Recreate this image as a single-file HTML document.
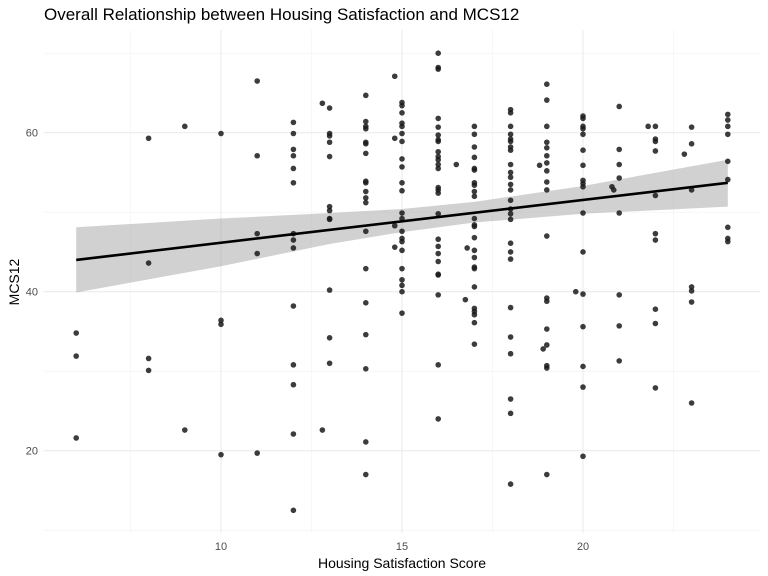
<!DOCTYPE html>
<html><head><meta charset="utf-8">
<style>
html,body{margin:0;padding:0;background:#fff;}
svg{display:block;font-family:"Liberation Sans",sans-serif;}
</style></head>
<body>
<svg id="chart" width="768" height="576" viewBox="0 0 768 576">
<text x="44" y="20" font-size="17" fill="#000">Overall Relationship between Housing Satisfaction and MCS12</text>
<text transform="translate(19,282) rotate(-90)" text-anchor="middle" font-size="14" fill="#000">MCS12</text>
<text x="402" y="568" text-anchor="middle" font-size="14" fill="#000">Housing Satisfaction Score</text>
<g id="grid"></g>
<g id="band"></g>
<g id="pts"></g>
<g id="fit"></g>
<g id="ticks"></g>
</svg>
<script>
const xTicks = [10, 15, 20];
const xMinor = [7.5, 12.5, 17.5, 22.5];
const yTicks = [20, 40, 60];
const yMinor = [10, 30, 50, 70];
const fitX = [6, 24];
const fitY = [44.0, 53.7];
const bandX = [6, 10, 13, 15, 17, 20, 24];
const bandHi = [48.1, 49.2, 49.9, 50.4, 51.3, 53.3, 56.6];
const bandLo = [39.9, 43.2, 46.0, 47.5, 48.7, 49.8, 50.7];
const housingX = [
6,6,6,
8,8,8,8,
9,9,
10,10,10,10,
11,11,11,11,11,
12,12,12,12,12,12,12,12,12,12,12,12,12,12,
12.8,12.8,
13,13,13,13,13,13,13,13,13,13,13,13,
14,14,14,14,14,14,14,14,14,14,14,14,14,14,14,14,14,14,14,
14.8,14.8,14.8,14.8,
15,15,15,15,15,15,15,15,15,15,15,15,15,15,15,15,15,15,15,15,15,15,
16,16,16,16,16,16,16,16,16,16,16,16,16,16,16,16,16,16,16,16,16,16,16,16,16,16,
16.5,16.75,16.8,
17,17,17,17,17,17,17,17,17,17,17,17,17,17,17,17,17,17,17,17,17,17,17,17,
18,18,18,18,18,18,18,18,18,18,18,18,18,18,18,18,18,18,18,18,18,18,18,18,18,18,
18.8,18.9,
19,19,19,19,19,19,19,19,19,19,19,19,19,19,19,19,19,19,
19.8,
20,20,20,20,20,20,20,20,20,20,20,20,20,20,20,20,20,
20.8,20.85,
21,21,21,21,21,21,21,21,
21.8,
22,22,22,22,22,22,22,22,22,22,
22.8,
23,23,23,23,23,23,23,
24,24,24,24,24,24,24,24,24
];
const mcs12 = [
34.8,31.9,21.6,
59.3,43.6,31.6,30.1,
60.8,22.6,
59.9,36.4,35.9,19.5,
66.5,57.1,47.3,44.8,19.7,
61.3,59.9,57.9,57.1,55.5,53.7,47.3,46.5,45.5,38.2,30.8,28.3,22.1,12.5,
63.7,22.6,
63.1,59.9,59.6,58.8,57.0,50.7,50.2,49.2,49.1,40.2,34.2,31.0,
64.7,61.4,60.8,60.5,58.8,58.6,57.4,53.9,53.7,52.6,51.8,51.2,47.6,42.9,38.6,34.6,30.3,21.1,17.0,
67.1,59.3,48.3,45.6,
63.8,63.4,62.5,61.2,60.8,59.9,58.9,56.7,55.7,53.7,52.7,49.9,49.2,47.6,46.7,46.3,45.2,42.9,41.5,40.8,40.0,37.3,
70.0,68.2,68.0,61.8,60.7,59.7,59.1,58.9,57.6,57.0,56.6,56.0,55.5,53.1,52.8,52.4,49.8,46.6,45.7,44.8,43.8,42.2,42.1,39.6,30.8,24.0,
56.0,39.0,45.5,
60.8,59.8,58.2,56.9,55.5,55.3,53.7,53.4,52.6,52.0,49.2,48.4,48.2,46.8,45.2,44.3,43.1,42.9,40.6,37.9,37.5,37.1,36.1,33.4,
62.9,62.5,60.8,59.8,59.2,58.9,58.2,57.8,56.0,55.0,54.4,53.5,52.8,51.5,50.4,49.8,49.1,46.1,45.0,44.1,38.0,34.3,32.2,26.5,24.7,15.8,
55.9,32.8,
66.1,64.1,60.8,58.8,58.1,57.1,56.2,55.2,53.8,52.8,47.0,39.2,38.8,35.3,33.3,30.7,30.4,17.0,
40.0,
62.1,61.8,60.8,60.5,59.8,57.8,55.9,54.0,53.6,53.2,49.9,45.0,39.7,35.6,30.6,28.0,19.3,
53.2,52.8,
63.3,57.9,56.0,54.3,49.9,39.6,35.7,31.3,
60.8,
60.8,59.2,58.9,57.7,52.1,47.3,46.5,37.8,36.0,27.9,
57.3,
60.7,58.6,52.8,40.6,40.1,38.7,26.0,
62.3,61.6,60.8,59.8,56.4,54.1,48.1,46.7,46.3
];

const NS = "http://www.w3.org/2000/svg";
const PL = 43.6, PR = 760, PT = 30, PB = 533;
const xs = v => 221 + (v - 10) * 36.2;
const ys = v => 291.7 - (v - 40) * 7.95;
function mk(tag, attrs, parent) {
  const e = document.createElementNS(NS, tag);
  for (const k in attrs) e.setAttribute(k, attrs[k]);
  parent.appendChild(e);
  return e;
}
const grid = document.getElementById('grid');
xMinor.forEach(v => {
  const l = mk('line', {x1: xs(v), x2: xs(v), y1: PT, y2: PB, stroke: '#f2f2f2', 'stroke-width': 0.6}, grid);
  
  
});
yMinor.forEach(v => {
  const l = mk('line', {x1: PL, x2: PR, y1: ys(v), y2: ys(v), stroke: '#f2f2f2', 'stroke-width': 0.6}, grid);
  
  
});
xTicks.forEach(v => {
  const l = mk('line', {x1: xs(v), x2: xs(v), y1: PT, y2: PB, stroke: '#ebebeb', 'stroke-width': 1.1}, grid);
  
  
});
yTicks.forEach(v => {
  const l = mk('line', {x1: PL, x2: PR, y1: ys(v), y2: ys(v), stroke: '#ebebeb', 'stroke-width': 1.1}, grid);
  
  
});
const ticks = document.getElementById('ticks');
xTicks.forEach(v => {
  const t = mk('text', {x: xs(v), y: 550, 'text-anchor': 'middle', 'font-size': 11, fill: '#4d4d4d'}, ticks);
  t.textContent = v;
  
  
});
yTicks.forEach(v => {
  const t = mk('text', {x: 38, y: ys(v) + 4, 'text-anchor': 'end', 'font-size': 11, fill: '#4d4d4d'}, ticks);
  t.textContent = v;
  
  
});

const up = bandX.map((x, i) => xs(x) + ',' + ys(bandHi[i]));
const lo = bandX.map((x, i) => xs(x) + ',' + ys(bandLo[i])).reverse();
const band = mk('polygon', {points: up.concat(lo).join(' '), fill: '#999999', 'fill-opacity': 0.45}, document.getElementById('band'));



const pts = document.getElementById('pts');
for (let i = 0; i < housingX.length; i++) {
  const c = mk('circle', {cx: xs(housingX[i]), cy: ys(mcs12[i]), r: 2.8, fill: '#1a1a1a', 'fill-opacity': 0.85}, pts);
  
  
}
const fl = mk('line', {x1: xs(fitX[0]), y1: ys(fitY[0]), x2: xs(fitX[1]), y2: ys(fitY[1]), stroke: '#000', 'stroke-width': 2.6}, document.getElementById('fit'));


</script>
</body></html>
